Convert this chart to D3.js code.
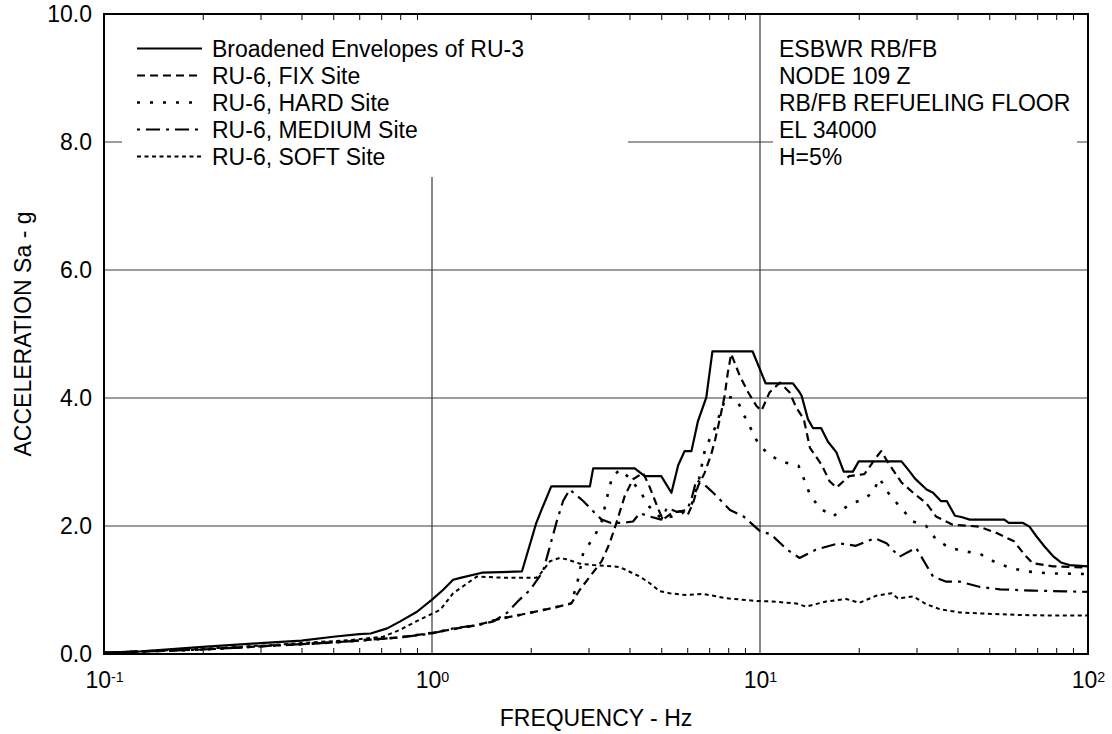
<!DOCTYPE html>
<html>
<head>
<meta charset="utf-8">
<script src="https://cdn.jsdelivr.net/npm/d3@7"></script>
<style>
  html, body { margin: 0; padding: 0; background: #fff; }
  svg { display: block; font-family: "Liberation Sans", Arial, sans-serif; }
</style>
</head>
<body>
<svg id="chart" width="1112" height="734"></svg>
<script>
// ---------------- DATA ----------------
const envFreq = [0.1,0.13,0.2,0.3,0.4,0.5,0.6,0.65,0.73,0.8,0.9,1.0,1.08,1.16,1.22,1.42,1.88,2.08,2.16,2.31,3.03,3.1,4.15,4.45,5.0,5.37,5.63,5.89,6.18,6.47,6.86,7.16,9.49,9.99,10.4,12.6,13.2,13.4,14.0,14.5,15.35,16.1,17.1,18.0,19.2,20.0,27.0,28.3,29.7,32.2,33.7,35.6,37.1,39.3,41.1,43.6,55.6,57.3,63.2,66.3,69.6,73.7,78.2,82.7,87.8,100];
const envAcc  = [0.02,0.04,0.11,0.17,0.21,0.27,0.31,0.32,0.40,0.51,0.66,0.85,1.0,1.16,1.19,1.27,1.29,2.05,2.26,2.62,2.62,2.90,2.90,2.78,2.78,2.52,2.95,3.17,3.17,3.64,4.01,4.73,4.73,4.45,4.23,4.23,4.09,4.03,3.67,3.53,3.53,3.32,3.15,2.85,2.85,3.01,3.01,2.88,2.74,2.57,2.52,2.39,2.39,2.16,2.14,2.10,2.10,2.05,2.05,1.99,1.84,1.68,1.53,1.43,1.39,1.37];

const fixFreq = [0.1,0.2,0.3,0.5,0.8,1.0,1.16,1.37,1.61,1.85,2.34,2.66,2.82,3.03,3.29,3.48,3.65,3.87,4.1,4.4,4.6,4.9,5.06,5.37,5.7,6.03,6.25,6.47,6.78,7.1,7.3,7.54,7.8,7.98,8.17,8.67,9.2,9.74,10.1,10.7,11.5,12.3,12.9,13.6,14.2,15.4,16.3,17.1,18.7,20.8,22.6,23.4,24.8,27,29.3,32.1,34.4,38.7,46.6,52.7,59.5,64.1,67.8,78.2,100];
const fixAcc  = [0.02,0.07,0.12,0.18,0.26,0.33,0.39,0.45,0.55,0.61,0.72,0.79,1.0,1.21,1.45,1.73,2.05,2.47,2.73,2.83,2.62,2.26,2.10,2.2,2.23,2.18,2.36,2.62,2.83,3.12,3.35,3.67,4.03,4.4,4.69,4.35,4.09,3.88,3.80,4.09,4.24,4.09,3.85,3.67,3.22,2.96,2.70,2.60,2.78,2.81,3.07,3.17,2.96,2.68,2.52,2.36,2.15,2.02,1.99,1.89,1.76,1.55,1.42,1.37,1.35];

const hardFreq = [0.1,0.2,0.3,0.5,0.8,1.0,1.16,1.37,1.61,1.85,2.34,2.66,2.8,2.89,3.13,3.29,3.37,3.45,3.55,3.75,4.0,4.3,4.6,5.0,5.4,5.8,6.2,6.5,6.8,7.3,7.6,7.9,8.5,8.9,9.4,9.85,10.6,11.6,13.1,13.7,14.2,15.2,16.7,17.7,19.0,20.5,22.1,23.1,24.6,26.6,29.3,32.1,34.4,37.8,42.5,46.6,52.7,58.7,65,76,100];
const hardAcc  = [0.02,0.07,0.12,0.18,0.26,0.33,0.39,0.45,0.55,0.61,0.72,0.79,1.2,1.58,1.84,2.07,2.31,2.54,2.78,2.88,2.75,2.55,2.3,2.12,2.15,2.2,2.35,2.7,3.2,3.54,3.8,4.03,3.98,3.75,3.51,3.30,3.12,3.01,2.94,2.70,2.49,2.28,2.15,2.25,2.35,2.41,2.52,2.75,2.52,2.31,2.07,2.0,1.79,1.66,1.60,1.57,1.42,1.34,1.29,1.26,1.25];

const medFreq = [0.1,0.2,0.3,0.5,0.8,1.0,1.16,1.37,1.54,1.69,1.85,1.99,2.18,2.26,2.4,2.51,2.63,2.89,3.1,3.29,3.5,3.8,4.1,4.3,4.6,5.0,5.2,5.6,6.0,6.2,6.4,6.86,7.2,8.1,8.9,10,10.8,12.1,13.2,14.8,17.4,19.6,22.4,24.3,26.6,29.9,33.7,37,40.7,46.6,53.9,67.7,85.6,100];
const medAcc  = [0.02,0.07,0.12,0.18,0.26,0.32,0.40,0.45,0.51,0.64,0.85,1.0,1.29,1.58,2.07,2.39,2.57,2.39,2.23,2.10,2.05,2.05,2.07,2.2,2.15,2.10,2.28,2.22,2.25,2.45,2.72,2.62,2.52,2.25,2.15,1.92,1.87,1.63,1.50,1.63,1.73,1.69,1.81,1.73,1.52,1.66,1.21,1.13,1.13,1.05,1.01,0.99,0.98,0.97];

const softFreq = [0.1,0.2,0.3,0.4,0.57,0.71,0.8,0.92,1.06,1.16,1.37,1.69,2.08,2.13,2.29,2.45,2.57,2.83,3.1,3.73,4.3,4.6,4.95,5.3,5.97,6.7,7.9,9.7,10.9,12.9,13.8,15.9,18.3,20.1,22.6,25.2,26.3,29.3,32.1,35.3,40.6,48.7,61.7,78,100];
const softAcc  = [0.02,0.08,0.13,0.17,0.22,0.27,0.38,0.54,0.69,0.95,1.21,1.19,1.19,1.24,1.45,1.50,1.48,1.41,1.39,1.36,1.21,1.11,0.98,0.95,0.92,0.94,0.87,0.83,0.82,0.79,0.74,0.82,0.86,0.80,0.91,0.95,0.87,0.90,0.78,0.70,0.65,0.63,0.61,0.60,0.60];

const seriesNames = ["Broadened Envelopes of RU-3","RU-6, FIX Site","RU-6, HARD Site","RU-6, MEDIUM Site","RU-6, SOFT Site"];
const noteLines = ["ESBWR RB/FB","NODE 109 Z","RB/FB REFUELING FLOOR","EL 34000","H=5%"];
const yTicks = [0,2,4,6,8,10];
const xMajor = [0.1,1,10,100];
const xTitle = "FREQUENCY - Hz";
const yTitle = "ACCELERATION Sa - g";

// ---------------- LAYOUT ----------------
const L = 104, R = 1088, T = 14, B = 654;
const FS = 23;
const svg = d3.select("#chart");
const x = d3.scaleLog().domain([0.1, 100]).range([L, R]);
const y = d3.scaleLinear().domain([0, 10]).range([B, T]);

const styles = [
  {dash: null, w: 2.2},
  {dash: "8,5", w: 2.2},
  {dash: "3,10", w: 2.6},
  {dash: "3,6,14,6", w: 2.2},
  {dash: "4,3.5", w: 2.0}
];
const series = [
  [envFreq, envAcc], [fixFreq, fixAcc], [hardFreq, hardAcc], [medFreq, medAcc], [softFreq, softAcc]
].map(([f, a]) => f.map((d, i) => [d, a[i]]));

// gridlines
const grid = svg.append("g").attr("stroke", "#3a3a3a").attr("stroke-width", 1.2);
grid.selectAll("line.h").data([2,4,6,8]).join("line")
  .attr("x1", L).attr("x2", R).attr("y1", d => y(d)).attr("y2", d => y(d));
grid.selectAll("line.v").data([1,10]).join("line")
  .attr("y1", T).attr("y2", B).attr("x1", d => x(d)).attr("x2", d => x(d));

// white boxes behind legend / notes
svg.append("rect").attr("x", 122).attr("y", T + 1).attr("width", 628 - 122).attr("height", 177 - T - 1).attr("fill", "#fff");
svg.append("rect").attr("x", 773).attr("y", T + 1).attr("width", 1077 - 773).attr("height", 177 - T - 1).attr("fill", "#fff");

// curves
const line = d3.line().x(d => x(d[0])).y(d => y(d[1]));
svg.append("g").selectAll("path").data(series).join("path")
  .attr("d", line)
  .attr("fill", "none")
  .attr("stroke", "#000")
  .attr("stroke-width", (d, i) => styles[i].w)
  .attr("stroke-dasharray", (d, i) => styles[i].dash)
  .attr("stroke-linejoin", "round");

// minor ticks (inward) bottom and top
const minor = [];
[0.1, 1, 10].forEach(b => { for (let k = 2; k <= 9; k++) minor.push(b * k); });
svg.append("g").attr("transform", `translate(0,${B})`)
  .call(d3.axisBottom(x).tickValues(minor).tickSize(-6).tickFormat(""))
  .call(g => g.select(".domain").remove())
  .call(g => g.selectAll("line").attr("stroke", "#000").attr("stroke-width", 1));
svg.append("g").attr("transform", `translate(0,${T})`)
  .call(d3.axisTop(x).tickValues(minor).tickSize(-6).tickFormat(""))
  .call(g => g.select(".domain").remove())
  .call(g => g.selectAll("line").attr("stroke", "#000").attr("stroke-width", 1));

// x tick labels with superscript exponents
const xAxis = svg.append("g").attr("transform", `translate(0,${B})`)
  .call(d3.axisBottom(x).tickValues(xMajor).tickSize(0).tickPadding(18).tickFormat(""));
xAxis.select(".domain").remove();
xAxis.selectAll(".tick text").attr("font-size", FS).attr("fill", "#000")
  .attr("font-family", "Liberation Sans, Arial, sans-serif")
  .each(function(d) {
    const t = d3.select(this);
    t.append("tspan").text("10");
    t.append("tspan").attr("dy", "-0.45em").attr("font-size", FS * 0.62).text(Math.round(Math.log10(d)));
  });

// y tick labels
const yAxis = svg.append("g").attr("transform", `translate(${L},0)`)
  .call(d3.axisLeft(y).tickValues(yTicks).tickSize(0).tickPadding(12).tickFormat(d3.format(".1f")));
yAxis.select(".domain").remove();
yAxis.selectAll(".tick text").attr("font-size", FS).attr("fill", "#000")
  .attr("font-family", "Liberation Sans, Arial, sans-serif");

// frame
svg.append("rect").attr("x", L).attr("y", T).attr("width", R - L).attr("height", B - T)
  .attr("fill", "none").attr("stroke", "#000").attr("stroke-width", 2);

// axis titles
svg.append("text").attr("x", (L + R) / 2).attr("y", 726).attr("text-anchor", "middle")
  .attr("font-size", FS).text(xTitle);
svg.append("text").attr("transform", `translate(31,${(T + B) / 2}) rotate(-90)`)
  .attr("text-anchor", "middle").attr("font-size", FS).text(yTitle);

// legend
const rowY = i => 48.5 + i * 27;
const lg = svg.append("g");
seriesNames.forEach((name, i) => {
  lg.append("line").attr("x1", 137).attr("x2", 202).attr("y1", rowY(i)).attr("y2", rowY(i))
    .attr("stroke", "#000").attr("stroke-width", styles[i].w).attr("stroke-dasharray", styles[i].dash);
  lg.append("text").attr("x", 212).attr("y", rowY(i) + 8.3).attr("font-size", FS).text(name);
});
// notes
noteLines.forEach((t, i) => {
  svg.append("text").attr("x", 779).attr("y", rowY(i) + 8.3).attr("font-size", FS).text(t);
});
</script>
</body>
</html>
